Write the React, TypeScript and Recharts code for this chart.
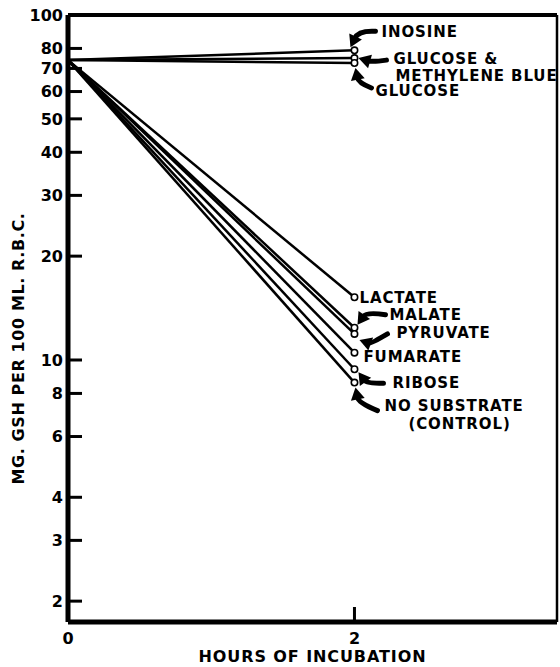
import React from 'react';
import { LineChart, Line, XAxis, YAxis, ReferenceLine, LabelList } from 'recharts';

const hours = [0, 2];
const seriesNames = [
  'INOSINE',
  'GLUCOSE & METHYLENE BLUE',
  'GLUCOSE',
  'LACTATE',
  'MALATE',
  'PYRUVATE',
  'FUMARATE',
  'RIBOSE',
  'NO SUBSTRATE (CONTROL)',
];
const startValues = [74, 74, 74, 74, 74, 74, 74, 74, 74];
const endValues = [79, 75, 72.6, 15.2, 12.4, 11.9, 10.5, 9.4, 8.6];
const labelLines = [
  ['INOSINE'],
  ['GLUCOSE &', 'METHYLENE BLUE'],
  ['GLUCOSE'],
  ['LACTATE'],
  ['MALATE'],
  ['PYRUVATE'],
  ['FUMARATE'],
  ['RIBOSE'],
  ['NO SUBSTRATE', '(CONTROL)'],
];
const yTicks = [2, 3, 4, 6, 8, 10, 20, 30, 40, 50, 60, 70, 80, 100];
const xTicks = [0, 2];
const xMax = 3.414;
const yDomain = [1.74, 100];

// annotation layout (offsets relative to the end point)
type Arrow = { tail: number[]; ctrl: number[]; tip: number[] } | null;
const labelLayout: { text: number[][]; arrow: Arrow }[] = [
  { text: [[27, -19]], arrow: { tail: [21, -19], ctrl: [4, -20], tip: [-4, -3] } },
  { text: [[39, 0], [41, 17]], arrow: { tail: [32, 2], ctrl: [18, 4], tip: [4, 0] } },
  { text: [[21, 28]], arrow: { tail: [17, 25], ctrl: [4, 20], tip: [1, 5] } },
  { text: [[5, 0]], arrow: null },
  { text: [[35, -13]], arrow: { tail: [31, -13], ctrl: [12, -16], tip: [3, -3] } },
  { text: [[42, -1]], arrow: { tail: [33, 0], ctrl: [16, 10], tip: [5, 6] } },
  { text: [[9, 4]], arrow: null },
  { text: [[38, 13]], arrow: { tail: [29, 14], ctrl: [12, 14], tip: [4, 3] } },
  { text: [[30, 23], [54, 41]], arrow: { tail: [23, 28], ctrl: [4, 20], tip: [1, 5] } },
];

const FONT = '"DejaVu Sans", sans-serif';

const data = hours.map((h, i) => {
  const row: Record<string, number> = { hours: h };
  seriesNames.forEach((_, k) => {
    row['s' + k] = i === 0 ? startValues[k] : endValues[k];
  });
  return row;
});

function ArrowMark({ px, py, a }: { px: number; py: number; a: NonNullable<Arrow> }) {
  const tx = px + a.tail[0], ty = py + a.tail[1];
  const cx = px + a.ctrl[0], cy = py + a.ctrl[1];
  const hx = px + a.tip[0], hy = py + a.tip[1];
  let ux = hx - cx, uy = hy - cy;
  const len = Math.hypot(ux, uy) || 1;
  ux /= len; uy /= len;
  const L = 12, W = 7;
  const bx = hx - ux * L, by = hy - uy * L;
  const nx = -uy, ny = ux;
  return (
    <g>
      <path d={`M${tx},${ty} Q${cx},${cy} ${bx + ux * 2},${by + uy * 2}`} fill="none" stroke="#000" strokeWidth={5} strokeLinecap="round" />
      <polygon points={`${hx},${hy} ${bx + nx * W},${by + ny * W} ${bx - nx * W},${by - ny * W}`} fill="#000" />
    </g>
  );
}

function makeLabel(k: number) {
  return (props: any) => {
    const { x, y, index } = props;
    if (index !== 1 || x == null || y == null) return null;
    const lay = labelLayout[k];
    return (
      <g>
        {lay.arrow && <ArrowMark px={x} py={y} a={lay.arrow} />}
        {labelLines[k].map((t, j) => (
          <text
            key={j}
            x={x + lay.text[j][0]}
            y={y + lay.text[j][1]}
            dy="0.36em"
            fontFamily={FONT}
            fontWeight="bold"
            fontSize={15}
            letterSpacing={0.9}
            fill="#000"
          >
            {t}
          </text>
        ))}
      </g>
    );
  };
}

function makeDot(k: number) {
  return (props: any) => {
    const { cx, cy, index } = props;
    if (index !== 1) return <g key={`d${k}-${index}`} />;
    return <circle key={`d${k}-${index}`} cx={cx} cy={cy} r={3.2} fill="#fff" stroke="#000" strokeWidth={1.6} />;
  };
}

function YTick(props: any) {
  const { x, y, payload } = props;
  return (
    <g>
      <line x1={x + 2} y1={y} x2={x + 14} y2={y} stroke="#000" strokeWidth={3} />
      <text x={x - 5} y={y} dy="0.36em" textAnchor="end" fontFamily={FONT} fontWeight="bold" fontSize={16} fill="#000">
        {payload.value}
      </text>
    </g>
  );
}

function XTick(props: any) {
  const { x, y, payload } = props;
  return (
    <g>
      {payload.value !== 0 && <line x1={x} y1={y - 2} x2={x} y2={y - 15} stroke="#000" strokeWidth={3} />}
      <text x={x} y={y + 16} dy="0.36em" textAnchor="middle" fontFamily={FONT} fontWeight="bold" fontSize={16} fill="#000">
        {payload.value}
      </text>
    </g>
  );
}

function YTitle(props: any) {
  const vb = props.viewBox || { x: 0, y: 0, width: 0, height: 0 };
  const cx = vb.x + 18;
  const cy = vb.y + vb.height / 2 + 30;
  return (
    <text x={cx} y={cy} dy="0.36em" textAnchor="middle" transform={`rotate(-90 ${cx} ${cy})`} fontFamily={FONT} fontWeight="bold" fontSize={16} letterSpacing={0.6} fill="#000">
      MG. GSH PER 100 ML. R.B.C.
    </text>
  );
}

function XTitle(props: any) {
  const vb = props.viewBox || { x: 0, y: 0, width: 0, height: 0 };
  const cx = vb.x + vb.width / 2;
  const cy = vb.y + 34;
  return (
    <text x={cx} y={cy} dy="0.36em" textAnchor="middle" fontFamily={FONT} fontWeight="bold" fontSize={16} letterSpacing={0.9} fill="#000">
      HOURS OF INCUBATION
    </text>
  );
}

export default function App() {
  return (
    <div style={{ position: 'absolute', left: 0, top: 0, width: 560, height: 667, background: '#fff' }}>
      <LineChart width={560} height={667} data={data} margin={{ top: 15, right: 3, bottom: 0, left: 0 }}>
        <XAxis
          dataKey="hours"
          type="number"
          domain={[0, xMax]}
          allowDataOverflow
          ticks={xTicks}
          interval={0}
          height={45}
          axisLine={{ stroke: '#000', strokeWidth: 5 }}
          tickLine={false}
          tickSize={0}
          tickMargin={0}
          tick={<XTick />}
          label={<XTitle />}
        />
        <YAxis
          type="number"
          scale="log"
          domain={yDomain}
          allowDataOverflow
          ticks={yTicks}
          interval={0}
          width={68}
          axisLine={{ stroke: '#000', strokeWidth: 5 }}
          tickLine={false}
          tickSize={0}
          tickMargin={0}
          tick={<YTick />}
          label={<YTitle />}
        />
        <ReferenceLine y={100} stroke="#000" strokeWidth={4} />
        <ReferenceLine x={xMax} stroke="#000" strokeWidth={2.5} />
        {seriesNames.map((name, k) => (
          <Line
            key={name}
            name={name}
            dataKey={'s' + k}
            type="linear"
            stroke="#000"
            strokeWidth={2.5}
            dot={makeDot(k)}
            activeDot={false}
            isAnimationActive={false}
          >
            <LabelList dataKey={'s' + k} content={makeLabel(k)} />
          </Line>
        ))}
      </LineChart>
    </div>
  );
}
